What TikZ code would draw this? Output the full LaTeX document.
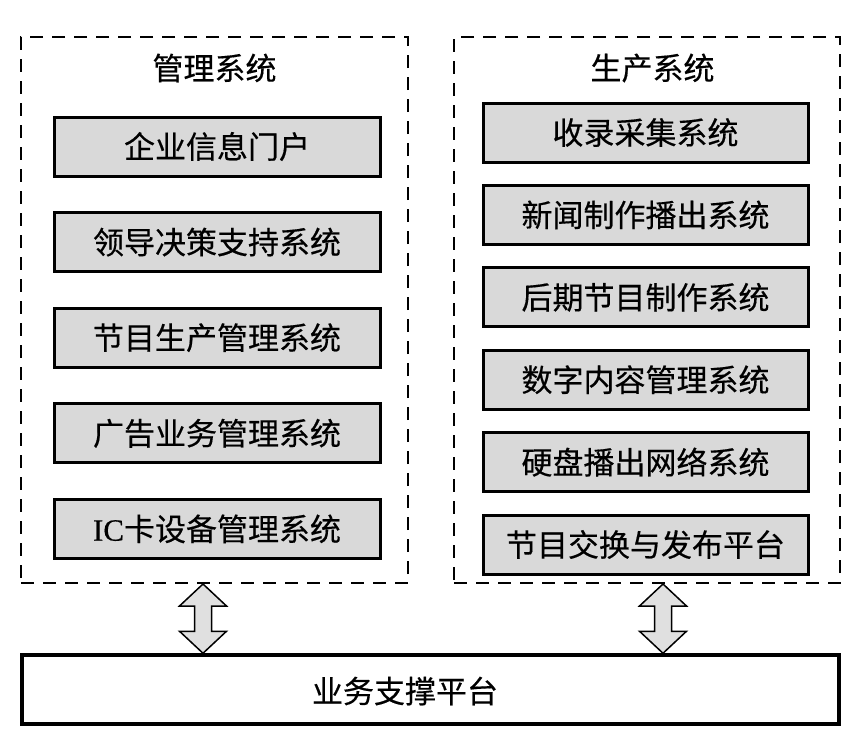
\documentclass[tikz,border=0pt]{standalone}
\usepackage{fontspec}
\setmainfont{Liberation Serif}[FakeBold=0.4]
\newfontfamily\cjk{Noto Sans CJK SC}[FakeBold=0.4]
\usetikzlibrary{positioning}

\begin{document}
\begin{tikzpicture}[x=1pt, y=-1pt, thick,
  group box/.style={draw, line width=2pt, dash pattern=on 13pt off 9pt, minimum width=387pt, minimum height=546pt, inner sep=0pt},
  sys node/.style={draw, line width=3pt, fill=black!15, minimum width=326pt, minimum height=59pt, inner sep=0pt, font=\cjk\fontsize{31}{36}\selectfont},
  title node/.style={font=\cjk\fontsize{31}{36}\selectfont},
  link arrow/.style={draw=black, line width=1.5pt, fill=black!12, line join=miter}]

\useasboundingbox (0,0) rectangle (860,747);

% the two groups
\node[group box] (mgmt) at (214.5,310) {};
\node[group box, minimum width=386pt] (prod) at (647,310) {};
\node[title node] (mgmttitle) at (214.5,68) {管理系统};
\node[title node] (prodtitle) at (652.5,68) {生产系统};

% management systems
\node[sys node] (m1) at (217,146.5) {企业信息门户};
\node[sys node] (m2) [below=33.6pt of m1] {领导决策支持系统};
\node[sys node] (m3) [below=33.6pt of m2] {节目生产管理系统};
\node[sys node] (m4) [below=33.6pt of m3] {广告业务管理系统};
\node[sys node] (m5) [below=33.6pt of m4] {{\rmfamily IC}卡设备管理系统};

% production systems
\node[sys node, minimum width=325pt] (p1) at (645.5,132.5) {收录采集系统};
\node[sys node, minimum width=325pt] (p2) [below=20.4pt of p1] {新闻制作播出系统};
\node[sys node, minimum width=325pt] (p3) [below=20.4pt of p2] {后期节目制作系统};
\node[sys node, minimum width=325pt] (p4) [below=20.4pt of p3] {数字内容管理系统};
\node[sys node, minimum width=325pt] (p5) [below=20.4pt of p4] {硬盘播出网络系统};
\node[sys node, minimum width=325pt] (p6) [below=20.4pt of p5] {节目交换与发布平台};

% platform
\node[draw, line width=3.5pt, minimum width=817pt, minimum height=69pt, inner sep=0pt] (plat) at (430.5,689.5) {};
\node[title node] (platlabel) at (405,691) {业务支撑平台};

% double arrows
\coordinate (ua) at ([xshift=-11.5pt]mgmt.south);
\coordinate (la) at (ua |- plat.north);
\coordinate (ub) at ([xshift=16pt]prod.south);
\coordinate (lb) at (ub |- plat.north);

\path[link arrow] (ua) -- ++(23.5,22) -- ++(-15,0) -- ([shift={(8.5,-22)}]la) -- ++(15,0) -- (la)
    -- ++(-23.5,-22) -- ++(15,0) -- ([shift={(-8.5,22)}]ua) -- ++(-15,0) -- cycle;
\path[link arrow] (ub) -- ++(23.5,22) -- ++(-15,0) -- ([shift={(8.5,-22)}]lb) -- ++(15,0) -- (lb)
    -- ++(-23.5,-22) -- ++(15,0) -- ([shift={(-8.5,22)}]ub) -- ++(-15,0) -- cycle;

\end{tikzpicture}
\end{document}
